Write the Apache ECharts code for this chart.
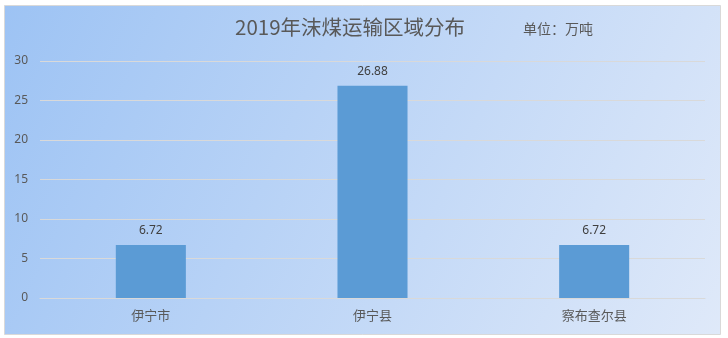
<!DOCTYPE html>
<html><head><meta charset="utf-8">
<script src="https://cdn.jsdelivr.net/npm/echarts@6/dist/echarts.min.js"></script>
<style>html,body{margin:0;padding:0;background:#fff}#c{width:728px;height:338px}</style>
</head><body><div id="c"></div>
<script>
var categories = ['伊宁市', '伊宁县', '察布查尔县'];
var values = [6.72, 26.88, 6.72];
var yTicks = [0, 5, 10, 15, 20, 25, 30];
var titleText = '2019年沫煤运输区域分布';
var unitText = '单位：万吨';

var chart = echarts.init(document.getElementById('c'));
chart.setOption({
  animation: false,
  backgroundColor: '#ffffff',
  graphic: [{
    type: 'rect', z: -10, silent: true,
    shape: {x: 4.5, y: 5.5, width: 716, height: 329},
    style: {
      fill: new echarts.graphic.LinearGradient(0, 0, 1, 1, [
        {offset: 0, color: '#9dc3f4'},
        {offset: 1, color: '#dfe9f9'}
      ]),
      stroke: '#d9d9d9', lineWidth: 1
    }
  }, {
    type: 'text', left: 523, top: 22,
    style: {text: unitText, fill: '#595959', font: '14px "Noto Sans CJK SC", sans-serif'}
  }, {
    type: 'text', left: 235, top: 17,
    style: {text: titleText, fill: '#595959', font: '20.5px "Noto Sans CJK SC", sans-serif'}
  }],
  grid: {left: 40, right: 23, top: 61, bottom: 40, containLabel: false},
  xAxis: {
    type: 'category', data: categories,
    axisLine: {lineStyle: {color: '#d9d9d9'}},
    axisTick: {show: false},
    axisLabel: {color: '#595959', fontSize: 13, margin: 11, fontFamily: '"Noto Sans CJK SC", sans-serif'}
  },
  yAxis: {
    type: 'value', min: yTicks[0], max: yTicks[yTicks.length - 1], interval: 5,
    axisLine: {show: false}, axisTick: {show: false},
    splitLine: {lineStyle: {color: '#d9d9d9'}},
    axisLabel: {color: '#595959', fontSize: 12, margin: 12, fontFamily: '"Noto Sans", sans-serif'}
  },
  series: [{
    type: 'bar', data: values, barWidth: '31.6%',
    itemStyle: {color: '#5b9bd5'},
    label: {show: true, position: 'top', distance: 8, color: '#404040', fontSize: 12, fontFamily: '"Noto Sans", sans-serif', formatter: function (p) { return p.value.toFixed(2); }}
  }]
});
</script></body></html>
